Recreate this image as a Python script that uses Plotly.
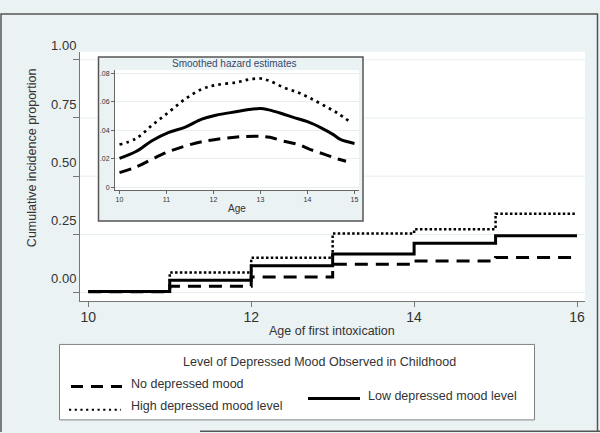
import plotly.graph_objects as go

W, H = 600, 433

# ---- main panel: cumulative incidence (step functions) ----
ages = [10, 11, 12, 13, 14, 15, 16]
cum_none = [0.004, 0.027, 0.067, 0.122, 0.136, 0.151, 0.151]
cum_low = [0.005, 0.053, 0.115, 0.166, 0.212, 0.244, 0.244]
cum_high = [0.006, 0.087, 0.150, 0.254, 0.272, 0.339, 0.339]

x_ticks = [10, 12, 14, 16]
y_ticks = [0, 0.25, 0.5, 0.75, 1.0]
y_ticktext = ["0.00", "0.25", "0.50", "0.75", "1.00"]

# ---- inset: smoothed hazard estimates ----
haz_age_low = [10.0, 10.35, 10.7, 11.05, 11.4, 11.75, 12.05, 12.5, 12.75, 13.0,
               13.15, 13.45, 13.7, 14.0, 14.3, 14.55, 14.7, 15.0]
haz_low = [.0203, .0251, .0329, .0386, .0423, .0479, .0507, .0532, .0546, .0553,
           .0546, .0519, .0491, .0461, .0416, .0370, .0336, .0308]
haz_age_high = [10.0, 10.35, 10.7, 11.05, 11.4, 11.75, 12.05, 12.5, 12.75, 13.0,
                13.2, 13.5, 13.8, 14.05, 14.35, 14.65, 14.9]
haz_high = [.0301, .0342, .0438, .0529, .0621, .0690, .0719, .0738, .0758, .0765,
            .0747, .0701, .0666, .0628, .0575, .0519, .0461]
haz_age_none = [10.0, 10.35, 10.7, 11.05, 11.4, 11.75, 12.05, 12.5, 13.0, 13.2,
                13.5, 13.8, 14.05, 14.35, 14.65, 14.82]
haz_none = [.0103, .0142, .0199, .0251, .0290, .0320, .0336, .0354, .0358, .0351,
            .0324, .0301, .0267, .0233, .0199, .0183]
inset_x_ticks = [10, 11, 12, 13, 14, 15]
inset_y_ticks = [0, 0.02, 0.04, 0.06, 0.08]
inset_y_ticktext = ["0", ".02", ".04", ".06", ".08"]

series_names = ["No depressed mood", "Low depressed mood level", "High depressed mood level"]
legend_title = "Level of Depressed Mood Observed in Childhood"

BG = "#EAF2F3"
FONT = "Liberation Sans, Arial, sans-serif"
TXT = "#333333"


def px(x):
    return x / W


def py(y):
    return 1 - y / H


DASH_MAIN = "13px,8px"
DOT_MAIN = "2.5px,2.3px"
DASH_IN = "12px,7px"
DOT_IN = "2.7px,4.2px"

fig = go.Figure()

fig.add_trace(go.Scatter(x=ages, y=cum_none, mode="lines", line_shape="hv",
                         line=dict(color="black", width=3, dash=DASH_MAIN),
                         name=series_names[0], xaxis="x", yaxis="y"))
fig.add_trace(go.Scatter(x=ages, y=cum_low, mode="lines", line_shape="hv",
                         line=dict(color="black", width=3),
                         name=series_names[1], xaxis="x", yaxis="y"))
fig.add_trace(go.Scatter(x=ages, y=cum_high, mode="lines", line_shape="hv",
                         line=dict(color="black", width=2.5, dash=DOT_MAIN),
                         name=series_names[2], xaxis="x", yaxis="y"))

fig.add_trace(go.Scatter(x=haz_age_none, y=haz_none, mode="lines", line_shape="spline",
                         line=dict(color="black", width=3, dash=DASH_IN),
                         xaxis="x2", yaxis="y2"))
fig.add_trace(go.Scatter(x=haz_age_low, y=haz_low, mode="lines", line_shape="spline",
                         line=dict(color="black", width=3),
                         xaxis="x2", yaxis="y2"))
fig.add_trace(go.Scatter(x=haz_age_high, y=haz_high, mode="lines", line_shape="spline",
                         line=dict(color="black", width=2.7, dash=DOT_IN),
                         xaxis="x2", yaxis="y2"))

shapes = []
# main gridlines (drawn as below-layer shapes so the inset box hides them)
for v in y_ticks:
    shapes.append(dict(type="line", xref="x domain", yref="y", x0=0, x1=1, y0=v, y1=v,
                       line=dict(color="#E6EEF0", width=1), layer="below"))
# inset box
shapes.append(dict(type="rect", xref="paper", yref="paper",
                   x0=px(98.5), x1=px(363), y0=py(215), y1=py(45.5),
                   fillcolor=BG, line=dict(color="#555555", width=1.5), layer="below"))
# legend box
shapes.append(dict(type="rect", xref="paper", yref="paper",
                   x0=px(59.5), x1=px(534.5), y0=py(420.5), y1=py(342.5),
                   fillcolor="white", line=dict(color="#808080", width=1), layer="below"))
# legend samples
shapes.append(dict(type="line", xref="paper", yref="paper", x0=px(71), x1=px(122),
                   y0=py(386), y1=py(386), line=dict(color="black", width=3, dash="12px,8px")))
shapes.append(dict(type="line", xref="paper", yref="paper", x0=px(69), x1=px(121),
                   y0=py(410), y1=py(410), line=dict(color="black", width=2.2, dash="2.2px,3.5px")))
shapes.append(dict(type="line", xref="paper", yref="paper", x0=px(308), x1=px(360),
                   y0=py(398.5), y1=py(398.5), line=dict(color="black", width=3)))
# outer frame
shapes.append(dict(type="path", xref="paper", yref="paper",
                   path=f"M {px(1)},{py(433)} L {px(1)},{py(1)} L {px(597.5)},{py(1)} L {px(597.5)},{py(433)}",
                   line=dict(color="#555555", width=1.5)))
shapes.append(dict(type="line", xref="paper", yref="paper", x0=px(200), x1=1,
                   y0=py(432.3), y1=py(432.3), line=dict(color="#555555", width=1.5)))


def ann(text, x, y, size=12.5, color=TXT, xanchor="center", angle=0):
    return dict(text=text, x=px(x), y=py(y), xref="paper", yref="paper",
                xanchor=xanchor, yanchor="middle", textangle=angle, showarrow=False,
                font=dict(size=size, color=color, family=FONT))


annotations = [
    ann("Cumulative incidence proportion", 32, 150, angle=-90),
    ann("Age of first intoxication", 332, 329),
    ann("Smoothed hazard estimates", 234, 52.5, size=10, color="#34496b"),
    ann("Age", 237, 202.5, size=10),
    ann(legend_title, 319, 361),
    ann(series_names[0], 129, 383.5, xanchor="left"),
    ann(series_names[2], 129, 406.5, xanchor="left"),
    ann(series_names[1], 366, 395.5, xanchor="left"),
]

fig.update_layout(
    width=W, height=H,
    margin=dict(l=0, r=0, t=0, b=0),
    paper_bgcolor=BG, plot_bgcolor="white",
    showlegend=False,
    font=dict(family=FONT, color=TXT),
    shapes=shapes, annotations=annotations,
    xaxis=dict(domain=[px(80), px(585)], range=[9.898, 16.098], tickvals=x_ticks,
               showgrid=False, zeroline=False, showline=True, linecolor="#777777", linewidth=1,
               ticks="outside", ticklen=5, tickcolor="#777777", ticklabelstandoff=-2,
               tickfont=dict(size=14, color=TXT), anchor="y"),
    yaxis=dict(domain=[py(298), py(40)], range=[-0.0374, 1.0345], tickvals=y_ticks,
               ticktext=y_ticktext, showgrid=False, zeroline=False, showline=True,
               linecolor="#777777", linewidth=1, ticks="outside", ticklen=6,
               tickcolor="#777777", tickfont=dict(size=13, color=TXT),
               ticklabelshift=-14, ticklabelstandoff=-6, anchor="x"),
    xaxis2=dict(domain=[px(115), px(359)], range=[9.904, 15.096], tickvals=inset_x_ticks,
                showgrid=False, zeroline=False, showline=True, linecolor="#666666", linewidth=1,
                ticks="outside", ticklen=3, tickcolor="#666666",
                tickfont=dict(size=7, color=TXT), anchor="y2"),
    yaxis2=dict(domain=[py(183), py(59)], range=[-0.002, 0.0824], tickvals=inset_y_ticks,
                ticktext=inset_y_ticktext, showgrid=True, gridcolor="#E6EEF0", gridwidth=1,
                zeroline=False, showline=True, linecolor="#666666", linewidth=1,
                ticks="outside", ticklen=3, tickcolor="#666666",
                tickfont=dict(size=7, color=TXT), anchor="x2"),
)

fig.write_html("out.html", config={"displayModeBar": False},
               post_script="document.body.style.margin='0';document.body.style.overflow='hidden';")
